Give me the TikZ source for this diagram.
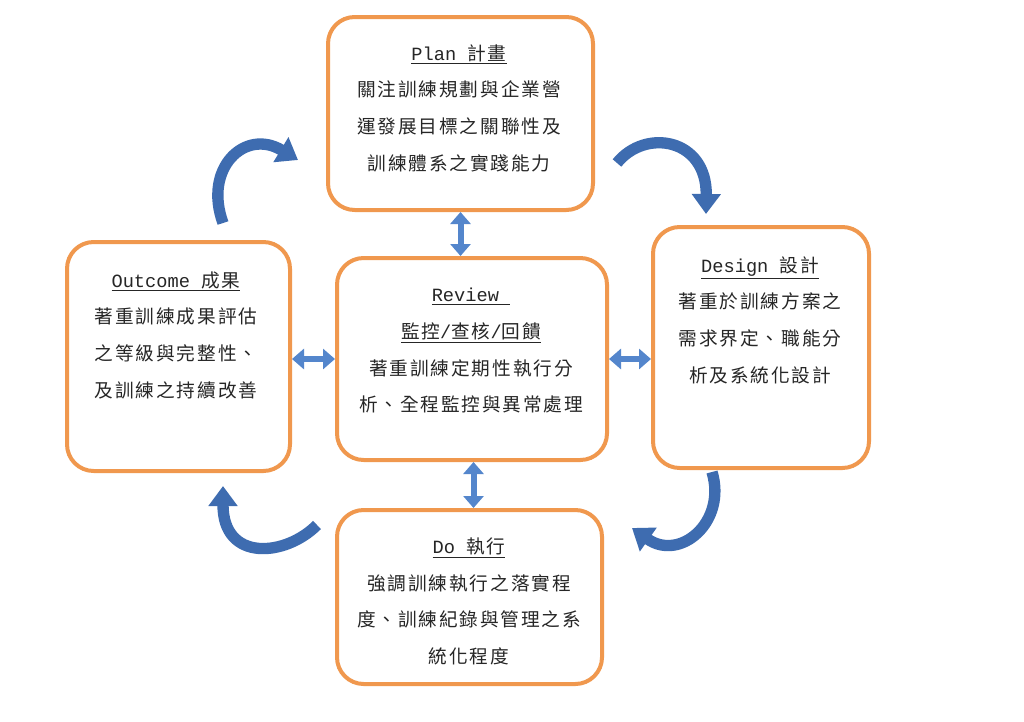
\documentclass[tikz,border=0pt]{standalone}
\usepackage{fontspec}
\setmainfont[LetterSpace=10]{Noto Sans CJK TC}
\newfontfamily\mono{Liberation Mono}
\usetikzlibrary{arrows.meta}
\definecolor{boxorange}{RGB}{240,152,78}
\definecolor{arrblue}{RGB}{62,108,176}
\definecolor{dblblue}{RGB}{84,134,204}
\begin{document}
\begin{tikzpicture}[x=0.75pt,y=-0.75pt,
 box/.style={draw=boxorange, line width=3pt, rounded corners=20pt, fill=white, inner sep=0pt},
 txt/.style={align=center, font=\fontsize{14}{27.5}\selectfont, text=black!85, inner sep=0pt},
 dbl/.style={draw=dblblue, line width=4.5pt, {Triangle[width=15pt,length=9pt]}-{Triangle[width=15pt,length=9pt]}},
 bendarrow/.style={draw=arrblue, line width=8.5pt, -{Triangle[width=21pt,length=15pt]}}]
\useasboundingbox (0,0) rectangle (1024,721);
\fill[white] (0,0) rectangle (1024,721);

% boxes
\node[box, minimum width=265*0.75pt, minimum height=193*0.75pt] (plan) at (460.5,113.5) {};
\node[box, minimum width=270*0.75pt, minimum height=202*0.75pt] (review) at (472,359) {};
\node[box, minimum width=223*0.75pt, minimum height=229*0.75pt] (outcome) at (178.5,356.5) {};
\node[box, minimum width=216*0.75pt, minimum height=241*0.75pt] (design) at (761,347.5) {};
\node[box, minimum width=265*0.75pt, minimum height=174*0.75pt] (do) at (469.5,597) {};

% texts
\node[txt] (plantext) at (459,108) {\underline{{\mono Plan\ }計畫}\\關注訓練規劃與企業營\\運發展目標之關聯性及\\訓練體系之實踐能力};
\node[txt] (reviewtext) at (471,351) {\underline{{\mono Review\ }}\\\underline{監控{\mono /}查核{\mono /}回饋}\\著重訓練定期性執行分\\析、全程監控與異常處理};
\node[txt] (outcometext) at (176,335) {\underline{{\mono Outcome\ }成果}\\著重訓練成果評估\\之等級與完整性、\\及訓練之持續改善};
\node[txt] (designtext) at (760,320) {\underline{{\mono Design\ }設計}\\著重於訓練方案之\\需求界定、職能分\\析及系統化設計};
\node[txt] (dotext) at (469,601.5) {\underline{{\mono Do\ }執行}\\強調訓練執行之落實程\\度、訓練紀錄與管理之系\\統化程度};

% straight double arrows
\draw[dbl] (plan.south) -- (plan.south |- review.north);
\draw[dbl] ([xshift=3pt]do.north) -- ([xshift=3pt]do.north |- review.south);
\draw[dbl] (review.west) -- (review.west -| outcome.east);
\draw[dbl] (review.east) -- (review.east -| design.west);

% curved arrows
\coordinate (c1s) at (223,223); \coordinate (c1e) at (298,160);
\coordinate (c2s) at (617,163); \coordinate (c2e) at (706,214);
\coordinate (c3s) at (712,472); \coordinate (c3e) at (632,528);
\coordinate (c4s) at (317,525); \coordinate (c4e) at (223,486);
\draw[bendarrow] (c1s) .. controls (203,168) and (245,128) .. (c1e);
\draw[bendarrow] (c2s) .. controls (645,128) and (707,138) .. (c2e);
\draw[bendarrow] (c3s) .. controls (727,522) and (680,562) .. (c3e);
\draw[bendarrow] (c4s) .. controls (285,557) and (223,562) .. (c4e);
\end{tikzpicture}
\end{document}
